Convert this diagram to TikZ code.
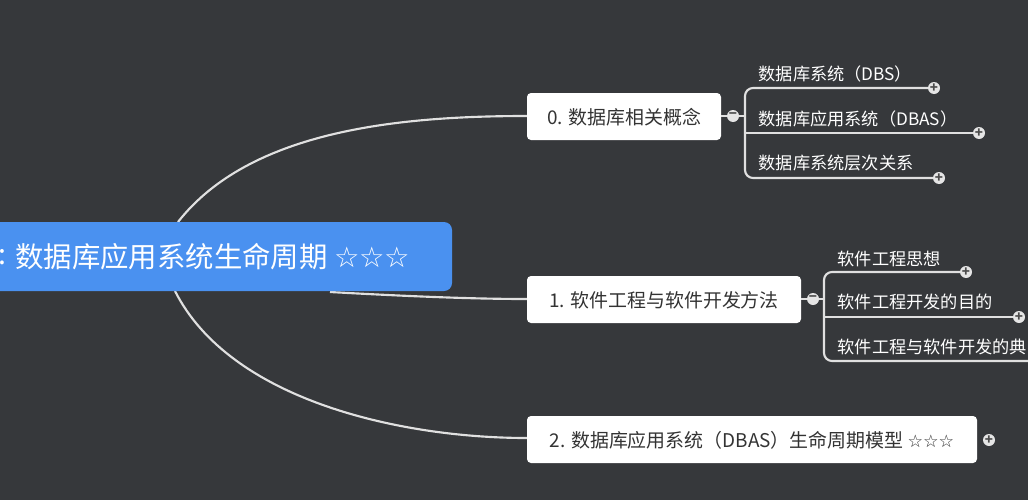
\documentclass[tikz,border=0pt]{standalone}
\usepackage{fontspec}
\setmainfont{Noto Sans CJK SC}
\newfontfamily\sym{DejaVu Sans}
\begin{document}
\begin{tikzpicture}[x=0.75pt,y=-0.75pt,
  br/.style={draw=white!88!black,line width=1.6pt},
  box/.style={fill=white,rounded corners=3pt,inner sep=0pt,text=black!80,font=\fontsize{14.2}{17}\selectfont},
  sub/.style={text=white,font=\fontsize{12.9}{15}\selectfont,anchor=south west,inner sep=1pt},
  pm/.style={circle,fill=white!90!black,minimum size=9pt,inner sep=0pt,font=\bfseries\fontsize{10}{10}\selectfont,text=black!70}]
\fill[fill={rgb,255:red,54;green,56;blue,59}] (0,0) rectangle (1028,500);
\useasboundingbox (0,0) rectangle (1028,500);
\begin{scope}
\clip (0,0) rectangle (1028,500);
% curves
\draw[br] (178,222) .. controls (250,130) and (400,116) .. (527,116);
\draw[br] (330,292) .. controls (420,297) and (480,299) .. (527,299);
\draw[br] (175,291) .. controls (230,400) and (400,438) .. (527,438);
% central
\fill[fill={rgb,255:red,74;green,145;blue,240},rounded corners=6pt] (-20,222) rectangle (452,291);
\node[text=white,anchor=east,inner sep=0pt,font=\fontsize{21.3}{25}\selectfont] (cc) at (7,257) {:};
\node[text=white,anchor=west,inner sep=0pt,font=\fontsize{21.3}{25}\selectfont] (c) at (15,257) {数据库应用系统生命周期 {\sym ☆☆☆}};
% branch nodes
\fill[white,rounded corners=3pt] (527,93) rectangle (721,140);
\node[box] (n0) at (624,117) {0. 数据库相关概念};
\fill[white,rounded corners=3pt] (527,276) rectangle (801,323);
\node[box] (n1) at (664,300) {1. 软件工程与软件开发方法};
\fill[white,rounded corners=3pt] (527,416) rectangle (977,463);
\node[box] (n2) at (752,440) {2. 数据库应用系统（DBAS）生命周期模型 {\sym\fontsize{13}{15}\selectfont ☆☆☆}};
% group 0
\draw[br] (721,116) -- (745,116);
\draw[br,rounded corners=6pt] (934,88) -- (745,88) -- (745,178) -- (939,178);
\draw[br] (745,133) -- (979,133);
\node[sub] (a1) at (757,84) {数据库系统（DBS）};
\node[sub] (a2) at (757,129) {数据库应用系统（DBAS）};
\node[sub] (a3) at (757,173) {数据库系统层次关系};
\node[pm] at (733,116) {−};
\node[pm] at (934,88) {+};
\node[pm] at (979,133) {+};
\node[pm] at (939,178) {+};
% group 1
\draw[br] (801,299) -- (824,299);
\draw[br,rounded corners=6pt] (966,272) -- (824,272) -- (824,361) -- (1040,361);
\draw[br] (824,317) -- (1019,317);
\node[sub] (b1) at (836,268) {软件工程思想};
\node[sub] (b2) at (836,312) {软件工程开发的目的};
\node[sub] (b3) at (836,357) {软件工程与软件开发的典};
\node[pm] at (813,299) {−};
\node[pm] at (966,272) {+};
\node[pm] at (1019,317) {+};
\node[pm] at (989,440) {+};
\end{scope}
\end{tikzpicture}
\end{document}
